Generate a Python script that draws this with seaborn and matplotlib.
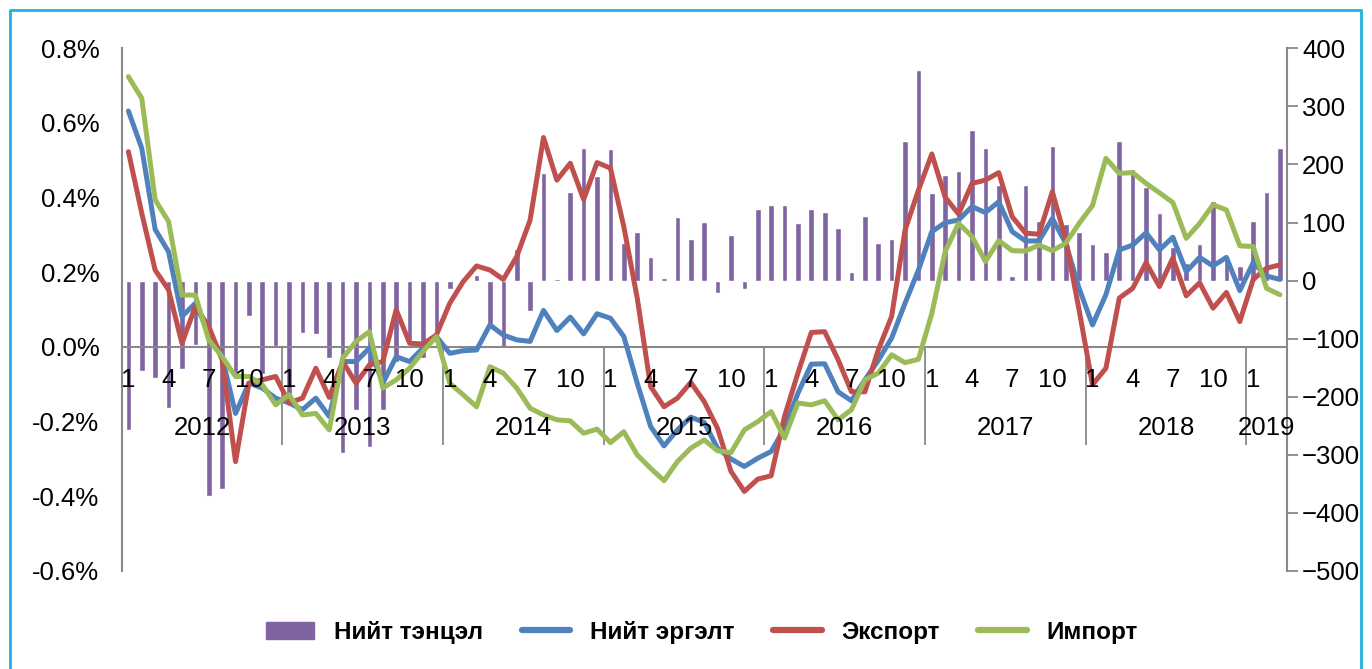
import numpy as np
import pandas as pd
import matplotlib.pyplot as plt
import matplotlib.lines as mlines
import matplotlib.patches as mpatches
import seaborn as sns

# Monthly data, Jan 2012 - Mar 2019
years = [2012, 2013, 2014, 2015, 2016, 2017, 2018, 2019]
months = list(range(1, 13)) * 7 + [1, 2, 3]
year_col = [y for y in years[:-1] for _ in range(12)] + [2019] * 3

# Нийт тэнцэл (right axis)
balance = [-258, -155, -168, -219, -153, -111, -371, -359, -160, -61, -160, -112,
           -200, -90, -92, -134, -297, -223, -286, -223, -140, -108, -134, -91,
           -15, 0, 10, -75, -114, 54, -52, 185, 2, 153, 229, 180,
           226, 65, 84, 41, 4, 109, 72, 101, -21, 78, -15, 124,
           130, 131, 99, 124, 118, 91, 15, 111, 65, 72, 240, 363,
           151, 182, 189, 259, 229, 165, 8, 164, 103, 231, 98, 84,
           63, 49, 240, 192, 162, 116, 58, 30, 63, 137, 40, 26,
           103, 153, 229]

# Нийт эргэлт, Экспорт, Импорт (left axis, %)
turnover = [0.632, 0.532, 0.315, 0.255, 0.082, 0.117, 0.037, -0.026, -0.178, -0.097, -0.11, -0.137,
            -0.15, -0.168, -0.137, -0.186, -0.039, -0.039, -0.003, -0.097, -0.026, -0.039, -0.003, 0.028,
            -0.017, -0.01, -0.008, 0.059, 0.032, 0.019, 0.015, 0.098, 0.044, 0.08, 0.035, 0.089,
            0.077, 0.028, -0.097, -0.213, -0.265, -0.222, -0.188, -0.202, -0.271, -0.30, -0.32, -0.298,
            -0.28, -0.218, -0.124, -0.046, -0.045, -0.12, -0.144, -0.088, -0.036, 0.024, 0.117, 0.206,
            0.309, 0.333, 0.34, 0.376, 0.36, 0.389, 0.309, 0.284, 0.284, 0.344, 0.278, 0.157,
            0.059, 0.14, 0.26, 0.273, 0.306, 0.26, 0.294, 0.202, 0.24, 0.217, 0.24, 0.151,
            0.226, 0.19, 0.181]

export = [0.523, 0.358, 0.206, 0.153, 0.01, 0.108, 0.055, -0.034, -0.307, -0.097, -0.088, -0.079,
          -0.15, -0.137, -0.057, -0.135, -0.039, -0.097, -0.048, -0.039, 0.1, 0.01, 0.008, 0.032,
          0.117, 0.175, 0.217, 0.206, 0.181, 0.242, 0.34, 0.561, 0.447, 0.492, 0.395, 0.494,
          0.479, 0.322, 0.131, -0.106, -0.16, -0.137, -0.095, -0.146, -0.218, -0.333, -0.387, -0.354,
          -0.345, -0.186, -0.07, 0.039, 0.041, -0.034, -0.12, -0.12, -0.008, 0.082, 0.313, 0.42,
          0.517, 0.401, 0.356, 0.438, 0.447, 0.467, 0.349, 0.305, 0.302, 0.416, 0.287, 0.099,
          -0.101, -0.057, 0.131, 0.157, 0.226, 0.162, 0.238, 0.137, 0.172, 0.104, 0.146, 0.068,
          0.181, 0.211, 0.22]

imports = [0.724, 0.666, 0.394, 0.336, 0.139, 0.139, 0.019, -0.026, -0.079, -0.079, -0.101, -0.155,
           -0.128, -0.182, -0.178, -0.222, -0.03, 0.015, 0.041, -0.11, -0.088, -0.057, -0.012, 0.028,
           -0.097, -0.128, -0.16, -0.053, -0.07, -0.11, -0.164, -0.182, -0.195, -0.198, -0.231, -0.22,
           -0.256, -0.227, -0.289, -0.325, -0.358, -0.307, -0.271, -0.249, -0.278, -0.283, -0.222, -0.2,
           -0.173, -0.244, -0.15, -0.155, -0.144, -0.195, -0.168, -0.088, -0.07, -0.021, -0.042, -0.033,
           0.09, 0.256, 0.331, 0.296, 0.229, 0.285, 0.258, 0.257, 0.273, 0.258, 0.278, 0.331,
           0.379, 0.505, 0.465, 0.467, 0.438, 0.413, 0.387, 0.291, 0.331, 0.381, 0.367, 0.271,
           0.269, 0.157, 0.14]

labels = ["Нийт тэнцэл", "Нийт эргэлт", "Экспорт", "Импорт"]
colors = ["#8064A2", "#4F81BD", "#C0504D", "#9BBB59"]

df = pd.DataFrame({"idx": np.arange(len(months)), "month": months, "year": year_col,
                   "balance": balance, "turnover": turnover, "export": export, "imports": imports})

sns.set_theme(style="white")
plt.rcParams["font.family"] = ["Liberation Sans", "DejaVu Sans"]
plt.rcParams["text.color"] = "black"
plt.rcParams["xtick.color"] = "black"
plt.rcParams["ytick.color"] = "black"

fig = plt.figure(figsize=(13.72, 6.69), dpi=100)
ax = fig.add_axes([0.0887, 0.1465, 0.8491, 0.7813])

# bars on the right-hand scale, drawn first so the lines sit on top
sns.barplot(data=df, x="idx", y="balance", color=colors[0], saturation=1,
            width=0.42, native_scale=True, ax=ax)
ax2 = ax.twinx()
for col, c in zip(["turnover", "export", "imports"], colors[1:]):
    sns.lineplot(data=df, x="idx", y=col, color=c, lw=3.6, ax=ax2,
                 solid_joinstyle="round", solid_capstyle="round", zorder=3)

grey = "#898989"
ax.set_xlim(-0.5, len(months) - 0.5)
ax.set_ylim(-500, 400)
ax.set_yticks(range(-500, 401, 100))
ax.yaxis.tick_right()
ax.set_xlabel("")
ax.set_ylabel("")
ax.set_xticks([])
ax.tick_params(axis="y", right=True, length=8, width=1.3, color=grey, pad=3, labelsize=18.5)
for s in ax.spines.values():
    s.set_visible(False)

ax2.set_ylim(-0.6, 0.8)
ticks = np.round(np.arange(-0.6, 0.81, 0.2), 1)
ax2.set_yticks(ticks)
ax2.set_yticklabels([f"{t:.1f}%" for t in ticks])
ax2.yaxis.tick_left()
ax2.set_ylabel("")
ax2.set_xlabel("")
ax2.set_xticks([])
ax2.tick_params(axis="y", left=True, length=0, pad=16, labelsize=18.5)
for side in ["top", "bottom"]:
    ax2.spines[side].set_visible(False)
for side in ["left", "right"]:
    ax2.spines[side].set_color(grey)
    ax2.spines[side].set_linewidth(1.5)

# category axis crossing at 0%
ax2.axhline(0, color=grey, lw=1.5, zorder=1.5)
tr = ax2.get_xaxis_transform()
for i, m in zip(df["idx"], df["month"]):
    if m in (1, 4, 7, 10):
        ax2.text(i, 0.3654, str(m), transform=tr, ha="center", va="center", fontsize=18.5)
for y in years:
    pos = df.loc[df["year"] == y, "idx"]
    ax2.text(pos.mean(), 0.2736, str(y), transform=tr, ha="center", va="center", fontsize=18.5)
seps = [12 * k - 0.5 for k in range(1, 8)]
ax2.vlines(seps, 0.241, 0.4267, transform=tr, color=grey, lw=1.3)

handles = [mpatches.Patch(color=colors[0])] + \
          [mlines.Line2D([], [], color=c, lw=4.5, solid_capstyle="round") for c in colors[1:]]
fig.legend(handles, labels, loc="center", bbox_to_anchor=(0.5115, 0.055), ncol=4, frameon=False,
           prop={"family": "Liberation Sans", "weight": "bold", "size": 17.5},
           handlelength=2.0, handletextpad=0.8, columnspacing=1.6)

# light blue frame
fig.add_artist(mlines.Line2D([10 / 1372, 10 / 1372, 1361 / 1372, 1361 / 1372],
                             [0, 1 - 10 / 669, 1 - 10 / 669, 0],
                             transform=fig.transFigure, color="#1FB1E6", lw=2))

fig.savefig("out.png", dpi=100)
